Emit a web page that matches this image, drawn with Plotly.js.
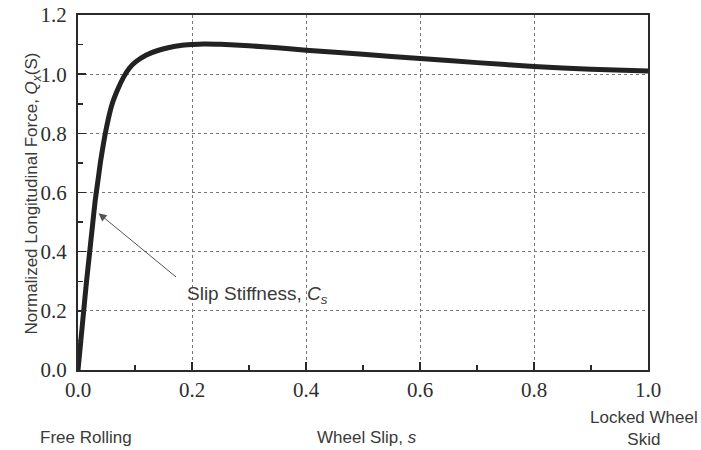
<!DOCTYPE html>
<html>
<head>
<meta charset="utf-8">
<script src="https://cdn.plot.ly/plotly-3.0.1.min.js"></script>
<style>html,body{margin:0;padding:0;background:#fff;}#chart{width:701px;height:450px;}</style>
</head>
<body>
<div id="chart"></div>
<script>
const slip = [0, 0.005, 0.01, 0.015, 0.02, 0.025, 0.03, 0.035, 0.04, 0.05, 0.06, 0.07, 0.08, 0.09, 0.1, 0.12, 0.14, 0.16, 0.18, 0.2, 0.22, 0.25, 0.3, 0.35, 0.4, 0.5, 0.6, 0.7, 0.8, 0.9, 1.0];
const force = [0, 0.1, 0.2, 0.3, 0.39, 0.48, 0.57, 0.64, 0.71, 0.82, 0.9, 0.95, 0.99, 1.02, 1.04, 1.065, 1.08, 1.09, 1.097, 1.1, 1.102, 1.101, 1.096, 1.089, 1.081, 1.067, 1.053, 1.039, 1.026, 1.017, 1.011];
const xTicks = [0, 0.2, 0.4, 0.6, 0.8, 1.0];
const xTickLabels = ["0.0", "0.2", "0.4", "0.6", "0.8", "1.0"];
const yTicks = [0, 0.2, 0.4, 0.6, 0.8, 1.0, 1.2];
const yTickLabels = ["0.0", "0.2", "0.4", "0.6", "0.8", "1.0", "1.2"];

const textColor = '#3a3a3a';
const sans = 'Liberation Sans, Arial, sans-serif';
const serif = 'Liberation Serif, Times New Roman, serif';

const axisCommon = {
  showline: true, linecolor: '#2a2a2a', linewidth: 2, mirror: true,
  ticks: 'inside', ticklen: 8, tickwidth: 1.5, tickcolor: '#2a2a2a',
  showgrid: true, gridcolor: '#777', griddash: 'dot', gridwidth: 1,
  zeroline: false,
  tickfont: {family: serif, size: 21, color: '#2e2e2e'},
  minor: {ticks: 'inside', ticklen: 5, tickwidth: 1.5, tickcolor: '#2a2a2a', dtick: 0.1, showgrid: false}
};

const data = [{
  x: slip, y: force, type: 'scatter', mode: 'lines',
  line: {color: '#222', width: 5, shape: 'spline', smoothing: 0.6},
  hoverinfo: 'skip'
}];

const layout = {
  width: 701, height: 450,
  margin: {l: 78, r: 53, t: 15, b: 80},
  paper_bgcolor: '#fff', plot_bgcolor: '#fff',
  showlegend: false,
  xaxis: Object.assign({}, axisCommon, {
    range: [0, 1], tickvals: xTicks, ticktext: xTickLabels, ticklabelstandoff: 0
  }),
  yaxis: Object.assign({}, axisCommon, {
    range: [0, 1.2], tickvals: yTicks, ticktext: yTickLabels, ticklabelstandoff: 5
  }),
  annotations: [
    {x: 0.036, y: 0.53, xref: 'x', yref: 'y', ax: 79, ay: 65, axref: 'pixel', ayref: 'pixel',
     text: '', showarrow: true, arrowhead: 2, arrowsize: 1.6, arrowwidth: 1, arrowcolor: '#555'},
    {x: 0.187, y: 0.255, xref: 'x', yref: 'y', xanchor: 'left', yanchor: 'middle',
     text: 'Slip Stiffness, <i>C<sub>s</sub></i>', showarrow: false,
     font: {family: sans, size: 19, color: textColor}},
    {x: -0.102, y: 0.497, xref: 'paper', yref: 'paper', textangle: -90,
     text: 'Normalized Longitudinal Force, <i>Q<sub>x</sub></i>(S)', showarrow: false,
     font: {family: sans, size: 17, color: textColor}},
    {x: -0.07, y: -0.189, xref: 'paper', yref: 'paper', xanchor: 'left', yanchor: 'middle',
     text: 'Free Rolling', showarrow: false, font: {family: sans, size: 17, color: textColor}},
    {x: 0.507, y: -0.189, xref: 'paper', yref: 'paper', xanchor: 'center', yanchor: 'middle',
     text: 'Wheel Slip, <i>s</i>', showarrow: false, font: {family: sans, size: 17, color: textColor}},
    {x: 0.993, y: -0.166, xref: 'paper', yref: 'paper', xanchor: 'center', yanchor: 'middle',
     text: 'Locked Wheel<br>Skid', showarrow: false, font: {family: sans, size: 17, color: textColor}}
  ]
};

Plotly.newPlot('chart', data, layout, {displayModeBar: false, staticPlot: true});
</script>
</body>
</html>
